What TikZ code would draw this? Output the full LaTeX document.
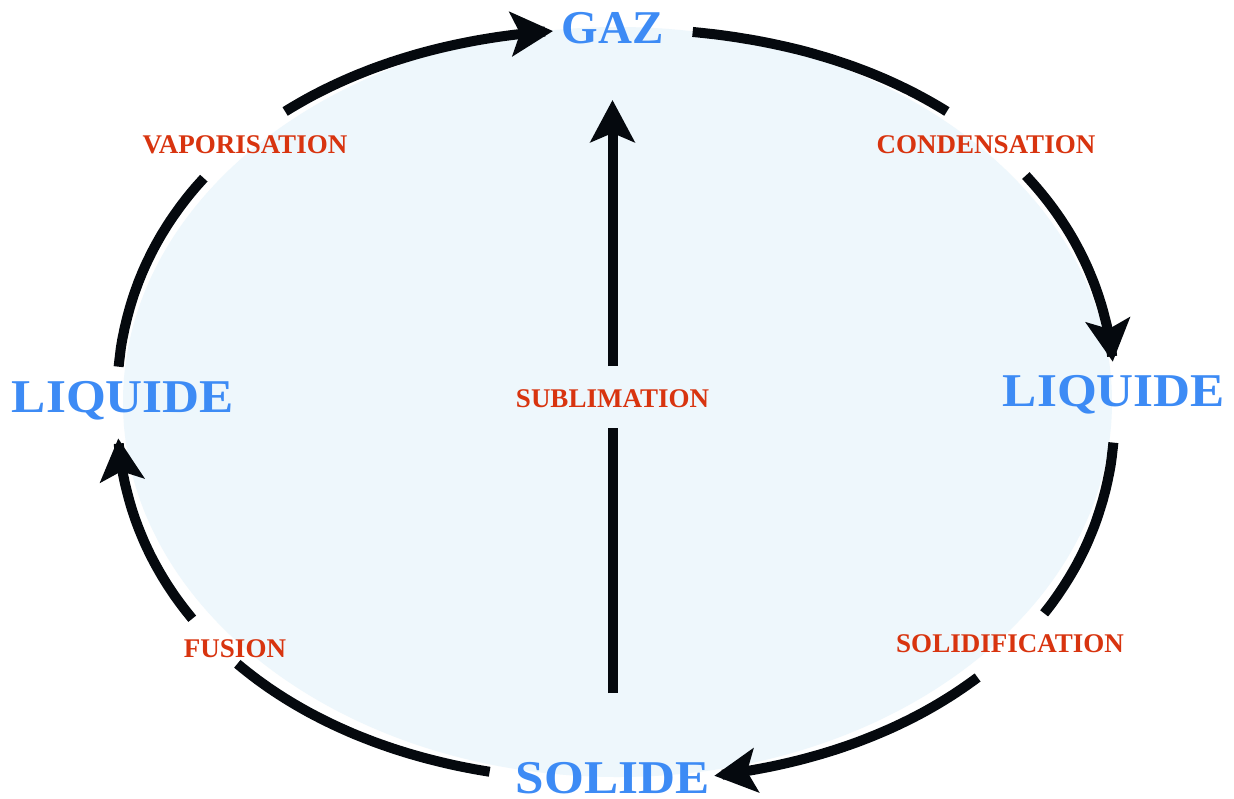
\documentclass[tikz,border=0pt]{standalone}
\usepackage{fontspec}
\setmainfont{Liberation Serif}
\usetikzlibrary{arrows.meta}
\definecolor{fillblue}{HTML}{EEF7FC}
\definecolor{txtblue}{HTML}{3D8BF5}
\definecolor{txtred}{HTML}{D8340F}
\definecolor{ink}{HTML}{05090E}
\begin{document}
\begin{tikzpicture}[x=1pt,y=-1pt,
  declare function={sx(\t)=616+499*sign(cos(\t))*pow(abs(cos(\t)),0.93);
                    sy(\t)=405+376*sign(sin(\t))*pow(abs(sin(\t)),0.93);},
  phase/.style={text=txtblue, font=\fontsize{47}{50}\selectfont\bfseries, inner sep=0pt, anchor=base},
  change/.style={text=txtred, font=\fontsize{27}{30}\selectfont\bfseries, inner sep=0pt, anchor=base},
  cyc/.style={draw=ink, line width=10pt},
  tipped/.style={-{Stealth[length=42pt,width=44pt,inset=9pt]}}]
\useasboundingbox (0,0) rectangle (1234,798);
\fill[white] (0,0) rectangle (1234,798);
\fill[fillblue] (617.5,402) ellipse [x radius=494.5, y radius=375];

% phase labels
\node[phase] (gaz) at (612.5,43) {GAZ};
\node[phase, xscale=1.09] (liqL) at (123,412) {LIQUIDE};
\node[phase, xscale=1.09] (liqR) at (1114,406) {LIQUIDE};
\node[phase, xscale=1.09] (sol) at (612.5,793) {SOLIDE};

% transition labels
\node[change] (vap) at (245,153) {VAPORISATION};
\node[change] (cond) at (986,153) {CONDENSATION};
\node[change] (subl) at (612.5,407) {SUBLIMATION};
\node[change] (solid) at (1010,652) {SOLIDIFICATION};
\node[change] (fus) at (235,657) {FUSION};

% cycle arcs
\draw[cyc] plot[domain=184.9:215.5, samples=40, variable=\t] ({sx(\t)},{sy(\t)});
\draw[cyc,tipped] plot[domain=230:263.8, samples=40, variable=\t] ({sx(\t)},{sy(\t)});
\draw[cyc] plot[domain=-82.5:-50, samples=40, variable=\t] ({sx(\t)},{sy(\t)});
\draw[cyc,tipped] plot[domain=-36:-5.6, samples=40, variable=\t] ({sx(\t)},{sy(\t)});
\draw[cyc] plot[domain=4.8:32, samples=40, variable=\t] ({sx(\t)},{sy(\t)});
\draw[cyc,tipped] plot[domain=45:80, samples=40, variable=\t] ({sx(\t)},{sy(\t)});
\draw[cyc] plot[domain=103.2:138, samples=40, variable=\t] ({sx(\t)},{sy(\t)});
\draw[cyc,tipped] plot[domain=147:175.8, samples=40, variable=\t] ({sx(\t)},{sy(\t)});

% sublimation arrow
\coordinate (s0) at (612.5,693);
\coordinate (s1) at (612.5,428);
\coordinate (s2) at (612.5,366);
\coordinate (s3) at (612.5,100);
\draw[cyc] (s0) -- (s1);
\draw[cyc,tipped] (s2) -- (s3);
\end{tikzpicture}
\end{document}
